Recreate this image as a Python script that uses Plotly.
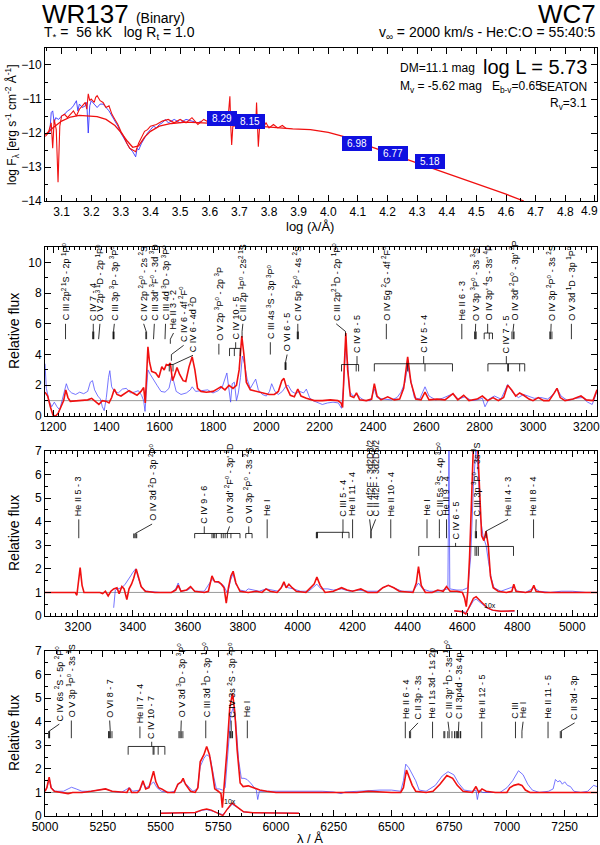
import plotly.graph_objects as go

FONT = "Liberation Sans, Arial, Helvetica, sans-serif"
NARROW = "Liberation Sans Narrow, Liberation Sans, Arial, sans-serif"
RED = "#f01010"
BLUE = "#3535ff"

# ---- panel 1: spectral energy distribution
sed_obs_logl = [3.06, 3.065, 3.07, 3.075, 3.08, 3.09, 3.10, 3.11, 3.12, 3.13, 3.14, 3.15, 3.155, 3.16, 3.17,
                3.18, 3.185, 3.19, 3.195, 3.20, 3.21, 3.22, 3.23, 3.24, 3.25, 3.26, 3.27, 3.28, 3.29, 3.30,
                3.31, 3.32, 3.33, 3.34, 3.35, 3.355, 3.36, 3.37, 3.38, 3.39, 3.40, 3.41, 3.42, 3.43, 3.44,
                3.45, 3.46, 3.47, 3.48, 3.50, 3.52, 3.54, 3.56, 3.57]
sed_obs_flux = [-12.0, -11.4, -11.35, -11.7, -11.55, -11.6, -11.5, -11.45, -11.35, -11.3, -11.2, -11.05, -11.35,
                -11.15, -11.25, -11.2, -11.1, -12.0, -11.2, -11.05, -11.15, -11.25, -11.15, -11.15, -11.25,
                -11.35, -11.5, -11.65, -11.8, -12.0, -12.15, -12.3, -12.45, -12.55, -12.7, -12.45, -12.5,
                -12.3, -12.15, -12.0, -11.9, -11.8, -11.85, -11.75, -11.7, -11.6, -11.7, -11.65, -11.6,
                -11.7, -11.6, -11.65, -11.7, -11.65]
sed_mod_logl = [3.045, 3.055, 3.065, 3.07, 3.075, 3.082, 3.088, 3.094, 3.10, 3.11, 3.12, 3.13, 3.14, 3.15, 3.16,
                3.17, 3.18, 3.185, 3.19, 3.195, 3.20, 3.21, 3.215, 3.22, 3.23, 3.24, 3.25, 3.26, 3.27, 3.28,
                3.29, 3.30, 3.31, 3.32, 3.33, 3.34, 3.35, 3.36, 3.37, 3.38, 3.39, 3.40, 3.42, 3.44, 3.46,
                3.48, 3.50, 3.52, 3.54, 3.56, 3.58, 3.60, 3.62, 3.64, 3.66, 3.665, 3.668, 3.671, 3.674, 3.678,
                3.70, 3.73, 3.755, 3.758, 3.761, 3.764, 3.768, 3.78, 3.79, 3.80, 3.815, 3.83, 3.845, 3.86]
sed_mod_flux = [-12.1, -12.0, -11.7, -12.45, -11.6, -11.9, -13.45, -11.8, -11.5, -11.45, -11.55, -11.45, -11.35,
                -11.5, -11.3, -11.2, -11.1, -11.3, -10.85, -11.05, -11.0, -11.1, -10.95, -10.9, -11.05, -11.1,
                -11.25, -11.2, -11.45, -11.6, -11.75, -11.95, -12.1, -12.3, -12.45, -12.5, -12.55, -12.3,
                -12.1, -11.95, -11.9, -11.8, -11.75, -11.65, -11.6, -11.7, -11.6, -11.7, -11.55, -11.75,
                -11.6, -11.7, -11.72, -11.72, -11.75, -11.35, -10.92, -11.8, -12.35, -11.8, -11.78, -11.78,
                -11.8, -11.1, -11.85, -12.4, -11.85, -11.85, -11.7, -11.85, -11.75, -11.85, -11.78, -11.88]
sed_cont_logl = [3.045, 3.07, 3.1, 3.13, 3.16, 3.19, 3.22, 3.25, 3.28, 3.30, 3.32, 3.34, 3.36, 3.38, 3.40, 3.43,
                 3.47, 3.52, 3.58, 3.65, 3.72, 3.80, 3.88, 3.94, 3.97, 4.00, 4.05, 4.1, 4.2, 4.3, 4.4, 4.5,
                 4.6, 4.66]
sed_cont_flux = [-12.05, -11.85, -11.65, -11.53, -11.48, -11.49, -11.52, -11.6, -11.78, -11.98, -12.22, -12.42,
                 -12.38, -12.12, -11.95, -11.8, -11.72, -11.68, -11.7, -11.73, -11.77, -11.83, -11.88, -11.9,
                 -11.93, -11.98, -12.1, -12.27, -12.58, -12.88, -13.19, -13.5, -13.8, -14.0]
phot_logl = [3.643, 3.735, 4.097, 4.217, 4.342]
phot_flux = [-11.56, -11.65, -12.31, -12.60, -12.85]
phot_mag = ["8.29", "8.15", "6.98", "6.77", "5.18"]
sed_ticks = [3.1, 3.2, 3.3, 3.4, 3.5, 3.6, 3.7, 3.8, 3.9, 4.0, 4.1, 4.2, 4.3, 4.4, 4.5, 4.6, 4.7, 4.8, 4.9]

# ---- panel 2: UV
uv_mod_wave = [1170, 1180, 1190, 1200, 1210, 1220, 1230, 1240, 1248, 1256, 1265, 1290, 1310, 1330, 1345, 1360,
               1372, 1385, 1400, 1410, 1420, 1430, 1440, 1455, 1470, 1485, 1500, 1515, 1530, 1540, 1546, 1551,
               1556, 1562, 1570, 1585, 1597, 1608, 1617, 1625, 1633, 1640, 1648, 1655, 1665, 1675, 1688, 1698,
               1710, 1722, 1732, 1742, 1755, 1775, 1800, 1815, 1830, 1845, 1860, 1875, 1888, 1898, 1908, 1916,
               1925, 1940, 1960, 1985, 2010, 2030, 2045, 2058, 2066, 2075, 2090, 2105, 2118, 2130, 2150, 2180,
               2210, 2240, 2268, 2280, 2286, 2293, 2298, 2305, 2315, 2328, 2338, 2350, 2375, 2395, 2405, 2415,
               2430, 2455, 2480, 2500, 2515, 2530, 2542, 2560, 2580, 2595, 2610, 2640, 2670, 2700, 2718, 2740,
               2760, 2790, 2810, 2830, 2850, 2870, 2890, 2905, 2920, 2935, 2950, 2965, 2985, 3000, 3020, 3040,
               3060, 3080, 3090, 3102, 3120, 3150, 3180, 3200, 3225, 3240]
uv_mod_flux = [1.55, 1.3, 0.6, 0.05, 0.0, 0.2, 0.6, 1.0, 1.7, 1.2, 0.95, 1.0, 1.05, 1.05, 1.15, 0.95, 0.75, 1.0,
               0.95, 0.85, 1.2, 1.75, 1.4, 1.3, 1.5, 1.65, 1.5, 1.35, 1.6, 1.85, 0.85, 2.8, 4.5, 3.5, 2.9, 2.8,
               2.5, 3.2, 3.0, 3.35, 3.3, 3.45, 2.3, 2.6, 3.15, 2.7, 2.3, 2.25, 3.2, 3.85, 3.0, 1.8, 1.6, 1.55,
               1.6, 1.75, 1.9, 1.7, 2.0, 1.8, 2.0, 3.0, 5.2, 4.0, 2.2, 1.7, 1.6, 1.5, 1.4, 1.4, 1.6, 2.3, 2.45,
               1.9, 1.35, 1.25, 1.75, 1.3, 1.15, 1.0, 1.0, 1.05, 1.0, 0.85, 0.55, 3.5, 5.4, 3.0, 1.3, 1.2, 1.5,
               1.05, 1.0, 1.1, 2.1, 1.3, 1.05, 1.25, 1.05, 1.1, 1.8, 3.85, 2.2, 1.1, 1.05, 1.55, 1.05, 1.1,
               1.05, 1.45, 1.05, 1.35, 1.0, 1.1, 1.3, 1.0, 1.2, 1.0, 1.2, 2.0, 1.7, 1.3, 1.5, 1.35, 1.1, 1.0,
               1.2, 1.0, 1.0, 1.5, 1.8, 1.2, 1.0, 1.1, 1.3, 1.05, 1.0, 1.7]
uv_obs_wave = [1170, 1175, 1185, 1195, 1205, 1215, 1225, 1235, 1243, 1250, 1258, 1270, 1285, 1300, 1315, 1330,
               1340, 1348, 1356, 1368, 1378, 1385, 1392, 1400, 1408, 1413, 1420, 1430, 1445, 1460, 1475, 1490,
               1505, 1520, 1532, 1540, 1545, 1550, 1556, 1565, 1575, 1590, 1605, 1620, 1635, 1645, 1652, 1662,
               1680, 1700, 1715, 1722, 1735, 1760, 1780, 1800, 1820, 1835, 1845, 1852, 1860, 1866, 1872, 1880,
               1888, 1895, 1903, 1910, 1918, 1928, 1940, 1950, 1960, 1970, 1985, 2000, 2012, 2020, 2032, 2045,
               2060, 2072, 2082, 2095, 2110, 2125, 2140, 2150, 2162, 2175, 2190, 2210, 2230, 2250, 2270, 2282,
               2290, 2297, 2305, 2312, 2325, 2340, 2355, 2370, 2390, 2405, 2415, 2440, 2470, 2490, 2505, 2520,
               2530, 2540, 2555, 2575, 2595, 2610, 2635, 2660, 2700, 2720, 2745, 2770, 2790, 2810, 2820, 2835,
               2855, 2880, 2905, 2925, 2945, 2965, 2985, 3005, 3030, 3055, 3075, 3090, 3105, 3130, 3160, 3185,
               3205, 3222, 3240]
uv_obs_flux = [3.4, 1.8, 1.0, 0.6, 0.9, 0.6, 0.4, 1.1, 1.6, 2.1, 1.7, 1.5, 1.4, 1.55, 1.45, 1.6, 2.2, 2.3, 1.7,
               1.3, 1.1, 0.6, 0.35, 1.2, 2.5, 2.95, 1.9, 1.6, 1.5, 1.75, 1.8, 1.5, 1.55, 1.65, 1.35, 1.0, 0.3,
               1.5, 3.0, 2.7, 2.4, 2.0, 1.6, 1.55, 1.8, 2.6, 2.3, 1.6, 1.4, 1.5, 1.7, 1.9, 1.6, 1.65, 1.7, 1.5,
               1.65, 1.9, 2.4, 2.8, 1.7, 0.9, 2.1, 2.2, 1.0, 1.5, 2.5, 3.9, 3.4, 2.4, 1.8, 2.1, 2.4, 1.7, 1.4,
               1.3, 1.6, 2.1, 1.6, 1.4, 1.6, 1.9, 2.0, 1.6, 1.45, 1.6, 1.5, 1.75, 1.2, 1.0, 0.9, 0.75, 0.85,
               0.9, 0.85, 0.5, 2.0, 4.5, 3.5, 1.6, 1.3, 1.4, 1.15, 1.0, 1.0, 1.75, 1.2, 1.1, 1.05, 1.2, 1.55,
               2.2, 3.3, 2.4, 1.2, 1.1, 1.9, 1.3, 1.05, 1.15, 1.45, 1.1, 1.25, 1.0, 1.05, 1.15, 0.6, 1.1, 1.3,
               1.1, 2.05, 1.5, 1.2, 1.4, 1.3, 1.15, 1.2, 1.1, 1.4, 1.8, 1.3, 1.0, 1.15, 1.2, 0.9, 0.75, 1.6]

# ---- panel 3: blue optical
b_mod_wave = [3080, 3150, 3190, 3196, 3202, 3208, 3215, 3222, 3280, 3290, 3300, 3310, 3320, 3330, 3342, 3350,
              3360, 3368, 3378, 3386, 3395, 3403, 3412, 3420, 3430, 3445, 3480, 3540, 3556, 3565, 3575, 3595,
              3610, 3625, 3660, 3675, 3688, 3698, 3712, 3722, 3732, 3740, 3748, 3757, 3765, 3775, 3790, 3820,
              3850, 3870, 3885, 3900, 3925, 3940, 3950, 3958, 3968, 3980, 3995, 4030, 4060, 4070, 4082, 4100,
              4130, 4160, 4180, 4200, 4230, 4255, 4290, 4310, 4330, 4350, 4370, 4420, 4432, 4440, 4450, 4465,
              4490, 4510, 4530, 4542, 4555, 4580, 4600, 4608, 4614, 4620, 4626, 4634, 4640, 4655, 4662, 4670,
              4678, 4686, 4694, 4702, 4712, 4730, 4760, 4780, 4787, 4795, 4830, 4850, 4860, 4868, 4900, 4950,
              5000, 5090]
b_mod_flux = [1.0, 1.0, 1.0, 0.88, 1.4, 2.05, 1.3, 1.0, 1.0, 0.95, 1.05, 0.85, 1.05, 1.15, 1.2, 0.95, 1.25,
              1.15, 0.7, 1.15, 1.35, 1.6, 2.0, 1.7, 1.25, 1.05, 1.0, 1.0, 1.1, 1.3, 1.05, 1.1, 1.25, 1.05, 1.0,
              1.05, 1.7, 1.45, 1.45, 1.35, 1.2, 0.55, 1.2, 1.7, 1.9, 1.4, 1.05, 1.0, 1.05, 1.0, 1.15, 1.05, 1.0,
              1.2, 1.45, 1.2, 1.35, 1.2, 1.05, 1.0, 1.35, 1.65, 1.3, 1.0, 1.05, 1.2, 1.1, 1.05, 1.15, 1.0, 1.0,
              1.2, 1.3, 1.2, 1.05, 1.0, 1.4, 2.1, 1.3, 1.0, 1.0, 1.1, 1.05, 1.25, 1.05, 1.05, 1.0, 0.75, 0.4,
              1.1, 2.5, 5.2, 7.3, 7.3, 5.2, 3.4, 3.2, 3.6, 3.0, 1.7, 1.2, 1.05, 1.0, 1.05, 1.35, 1.05, 1.0,
              1.05, 1.3, 1.05, 1.0, 1.0, 1.0, 1.0]
b_obs_wave = [3330, 3336, 3345, 3360, 3372, 3382, 3392, 3400, 3410, 3420, 3432, 3450, 3500, 3540, 3556, 3565,
              3575, 3600, 3612, 3625, 3660, 3688, 3700, 3715, 3730, 3745, 3755, 3765, 3775, 3790, 3810, 3820,
              3840, 3860, 3885, 3905, 3930, 3950, 3965, 3985, 4010, 4040, 4070, 4085, 4110, 4130, 4160, 4190,
              4220, 4255, 4290, 4310, 4330, 4350, 4380, 4420, 4440, 4455, 4480, 4510, 4530, 4547, 4551, 4554,
              4580, 4600, 4620, 4630, 4640, 4650, 4658, 4665, 4675, 4686, 4695, 4705, 4715, 4740, 4787, 4800,
              4830, 4860, 4880, 4920, 4960, 5000, 5050, 5090]
b_obs_flux = [0.35, 1.1, 1.15, 1.2, 1.35, 1.5, 1.7, 1.85, 2.0, 1.6, 1.2, 1.05, 1.0, 1.0, 1.15, 1.4, 1.05, 1.1,
              1.2, 1.05, 1.05, 1.55, 1.45, 1.4, 1.3, 0.95, 1.5, 1.8, 1.35, 1.1, 1.05, 1.15, 1.1, 1.05, 1.15,
              1.1, 1.05, 1.35, 1.2, 1.15, 1.05, 1.05, 1.35, 1.15, 1.15, 1.1, 1.15, 1.05, 1.1, 1.05, 1.05, 1.2,
              1.3, 1.2, 1.05, 1.05, 1.4, 1.15, 1.05, 1.05, 1.1, 1.15, 7.3, 1.15, 1.1, 1.1, 1.2, 2.5, 5.5, 7.3,
              6.0, 4.2, 3.4, 3.0, 2.3, 1.6, 1.2, 1.05, 1.25, 1.05, 1.0, 1.2, 1.05, 1.0, 1.05, 1.05, 1.0, 1.0]
b_ins_wave = [4570, 4590, 4600, 4612, 4625, 4640, 4650, 4660, 4672, 4690, 4710, 4740, 4790]
b_ins_mod = [0.22, 0.2, 0.18, 0.08, 0.4, 0.75, 0.82, 0.7, 0.55, 0.35, 0.25, 0.2, 0.22]
b_ins_obs = [0.2, 0.2, 0.2, 0.15, 0.35, 0.65, 0.72, 0.62, 0.5, 0.33, 0.24, 0.2, 0.2]

# ---- panel 4: red optical
r_mod_wave = [5000, 5008, 5018, 5026, 5040, 5080, 5100, 5120, 5160, 5200, 5240, 5262, 5290, 5330, 5355, 5365,
              5375, 5400, 5410, 5424, 5436, 5450, 5462, 5470, 5480, 5492, 5505, 5530, 5560, 5575, 5590, 5598,
              5608, 5630, 5650, 5662, 5672, 5688, 5700, 5712, 5724, 5735, 5750, 5762, 5768, 5776, 5788, 5800,
              5812, 5822, 5832, 5845, 5858, 5880, 5900, 5930, 5960, 6000, 6100, 6200, 6280, 6350, 6400, 6450,
              6500, 6540, 6552, 6565, 6578, 6590, 6605, 6650, 6680, 6710, 6740, 6765, 6785, 6810, 6850, 6866,
              6878, 6892, 6910, 6950, 7000, 7012, 7030, 7050, 7065, 7080, 7100, 7200, 7300, 7390]
r_mod_flux = [1.05, 1.2, 1.65, 1.2, 1.05, 1.0, 0.95, 1.0, 1.0, 1.05, 1.1, 1.15, 1.05, 1.0, 1.0, 1.2, 1.0, 1.0,
              1.1, 1.5, 1.15, 1.2, 1.6, 1.9, 1.45, 1.2, 1.15, 1.0, 1.0, 1.35, 1.45, 1.6, 1.35, 1.05, 1.0, 1.2,
              2.3, 2.6, 2.95, 2.6, 1.9, 1.15, 1.05, 0.95, 0.35, 1.2, 2.8, 4.6, 5.2, 4.4, 2.8, 1.4, 1.25, 1.28,
              1.2, 1.1, 1.05, 1.0, 1.0, 1.0, 0.97, 1.0, 1.05, 1.02, 1.0, 1.0, 1.2, 1.95, 1.6, 1.3, 1.05, 1.0,
              1.05, 1.35, 1.72, 1.6, 1.3, 1.05, 1.0, 1.25, 1.0, 1.15, 1.05, 1.0, 1.0, 1.2, 1.3, 1.35, 1.3, 1.1,
              1.0, 1.0, 1.0, 1.0]
r_obs_wave = [5000, 5010, 5018, 5028, 5045, 5080, 5100, 5115, 5135, 5160, 5200, 5240, 5262, 5290, 5330, 5365,
              5380, 5410, 5424, 5438, 5455, 5470, 5485, 5505, 5540, 5560, 5575, 5595, 5612, 5640, 5660, 5672,
              5688, 5700, 5715, 5730, 5742, 5755, 5768, 5780, 5792, 5805, 5815, 5826, 5838, 5850, 5862, 5875,
              5890, 5905, 5915, 5921, 5928, 5950, 6000, 6050, 6100, 6150, 6200, 6250, 6282, 6300, 6350, 6400,
              6420, 6450, 6500, 6540, 6552, 6562, 6575, 6590, 6605, 6620, 6650, 6690, 6720, 6745, 6770, 6790,
              6815, 6850, 6866, 6872, 6880, 6895, 6930, 6970, 7000, 7025, 7050, 7070, 7090, 7110, 7140, 7180,
              7200, 7210, 7220, 7230, 7240, 7250, 7262, 7275, 7290, 7320, 7350, 7375, 7390]
r_obs_flux = [1.05, 1.25, 1.6, 1.2, 1.05, 1.05, 1.15, 1.22, 1.15, 1.05, 1.05, 1.1, 1.15, 1.05, 1.0, 1.2, 1.05,
              1.1, 1.4, 1.2, 1.3, 1.45, 1.2, 1.05, 1.0, 1.05, 1.3, 1.5, 1.35, 1.05, 1.15, 2.1, 2.45, 2.6, 2.5,
              1.7, 1.15, 1.15, 1.1, 1.2, 2.9, 4.3, 4.6, 4.0, 2.4, 1.6, 1.6, 1.55, 1.4, 1.2, 1.1, 0.7, 1.05,
              1.05, 1.05, 1.05, 1.05, 1.08, 1.05, 1.02, 0.95, 1.02, 1.05, 1.08, 1.1, 1.1, 1.1, 1.05, 1.5, 2.2,
              2.05, 1.8, 1.5, 1.1, 1.05, 1.3, 1.7, 1.88, 1.75, 1.4, 1.1, 1.05, 1.1, 0.7, 1.1, 1.0, 1.0, 1.0,
              1.2, 1.5, 1.92, 1.75, 1.35, 1.1, 1.0, 1.05, 1.15, 1.55, 1.45, 1.5, 1.35, 1.45, 1.3, 1.25, 1.05,
              1.0, 1.05, 1.3, 1.25]
r_ins_wave = [5500, 5550, 5600, 5650, 5680, 5700, 5720, 5750, 5770, 5790, 5810, 5830, 5860, 5900, 6000, 6100]
r_ins_mod = [0.12, 0.13, 0.12, 0.15, 0.26, 0.3, 0.25, 0.12, 0.02, 0.3, 0.55, 0.4, 0.18, 0.14, 0.12, 0.12]
r_ins_obs = [0.12, 0.12, 0.12, 0.14, 0.24, 0.27, 0.22, 0.12, 0.06, 0.28, 0.5, 0.38, 0.17, 0.14, 0.12, 0.12]

# line identifications: label, text wavelength, text base, line wavelengths, tick bottom, tick top, bar
uv_ids = [
    ("C III 2p<sup>2 1</sup>S - 2p <sup>1</sup>P<sup>o</sup>", 1247, 6.0, [1247], 5.0, 5.0, False),
    ("C IV 7 - 4", 1351, 6.0, [1349, 1351, 1353], 5.0, 5.5, False),
    ("O V 2p<sup>3 1</sup>D - 2p <sup>1</sup>P<sup>o</sup>", 1376, 6.0, [1371], 5.0, 5.0, False),
    ("C III 3p <sup>3</sup>P - 3p <sup>3</sup>P<sup>o</sup>", 1430, 6.0, [1425, 1427, 1429], 5.0, 5.5, False),
    ("C IV 2p <sup>2</sup>P<sup>o</sup> - 2s <sup>2</sup>S", 1540, 6.0, [1548, 1551], 5.0, 5.5, False),
    ("C III 3d' <sup>3</sup>F<sup>o</sup> - 3d <sup>3</sup>D", 1580, 6.0, [1577], 5.0, 5.0, False),
    ("C III 4d <sup>3</sup>D - 3p <sup>3</sup>P<sup>o</sup>", 1622, 6.0, [1620], 5.0, 5.0, False),
    ("He II 3 - 2", 1652, 5.4, [1640], 4.7, 5.0, False),
    ("C IV 6 - 4f <sup>2</sup>F<sup>o</sup>", 1690, 4.6, [1644], 3.6, 4.0, False),
    ("C IV 6 - 4d <sup>2</sup>D", 1725, 3.95, [1636, 1650], 2.9, 3.35, True),
    ("O V 2p <sup>3</sup>P<sup>o</sup> - 2p <sup>3</sup>P", 1822, 4.7, [1822], 4.0, 4.0, False),
    ("C IV 10 - 5", 1885, 4.8, [1862, 1880, 1902], 3.9, 4.4, True),
    ("C III 2p <sup>1</sup>P<sup>o</sup> - 2s<sup>2 1</sup>S", 1912, 6.0, [1909], 5.1, 5.5, False),
    ("C III 4s <sup>3</sup>S - 3p <sup>3</sup>P<sup>o</sup>", 2015, 4.8, [2015], 4.0, 4.0, False),
    ("O VI 6 - 5", 2078, 4.0, [2070, 2072, 2074], 3.0, 3.5, False),
    ("C IV 5p <sup>2</sup>P<sup>o</sup> - 4s <sup>2</sup>S", 2118, 6.0, [2116, 2118, 2120], 5.0, 5.5, False),
    ("C III 2p<sup>2 1</sup>D - 2p <sup>1</sup>P<sup>o</sup>", 2262, 6.0, [2297], 5.2, 5.5, False),
    ("C IV 8 - 5", 2340, 3.9, [2282, 2337, 2346], 2.9, 3.35, True),
    ("O IV 5g <sup>2</sup>G - 4f <sup>2</sup>F<sup>o</sup>", 2450, 6.0, [2450], 5.0, 5.0, False),
    ("C IV 5 - 4", 2590, 3.9, [2405, 2530, 2595, 2698], 2.9, 3.4, True),
    ("He II 6 - 3", 2733, 6.0, [2733], 5.0, 5.0, False),
    ("O V 3p <sup>3</sup>P<sup>o</sup> - 3s <sup>3</sup>S", 2785, 6.0, [2781, 2784, 2787], 5.0, 5.5, False),
    ("O IV 3p' <sup>4</sup>S - 3s' <sup>4</sup>P", 2830, 6.0, [2817, 2836, 2848], 5.0, 5.4, True),
    ("C IV 7 - 5", 2900, 3.9, [2831, 2905, 2908, 2950, 2969], 2.9, 3.4, True),
    ("O IV 3d' <sup>2</sup>D<sup>o</sup> - 3p' <sup>2</sup>P", 2928, 6.0, [2921, 2926, 2929], 5.0, 5.5, False),
    ("O IV 3p <sup>2</sup>P<sup>o</sup> - 3s <sup>2</sup>S", 3068, 6.0, [3063, 3066, 3071], 5.0, 5.5, False),
    ("O V 3d <sup>1</sup>D - 3p <sup>1</sup>P<sup>o</sup>", 3144, 6.0, [3144], 5.0, 5.0, False),
]
blue_ids = [
    ("He II 5 - 3", 3203, 4.1, [3203], 3.3, 3.3, False),
    ("O IV 3d <sup>2</sup>D - 3p <sup>2</sup>P<sup>o</sup>", 3470, 3.9, [3403, 3407, 3411, 3414], 3.3, 3.5, False),
    ("C IV 9 - 6", 3660, 3.8, [3625, 3688, 3693, 3698, 3704, 3722, 3790], 3.3, 3.5, True),
    ("O IV 3d' <sup>2</sup>F<sup>o</sup> - 3p' <sup>2</sup>D", 3752, 3.8, [3729, 3736, 3744, 3757], 3.3, 3.5, False),
    ("O VI 3p <sup>2</sup>P<sup>o</sup> - 3s <sup>2</sup>S", 3822, 3.8, [3811, 3834], 3.3, 3.5, True),
    ("He I", 3889, 4.1, [3889], 3.3, 3.3, False),
    ("C III 5 - 4", 4165, 4.1, [4068, 4070, 4072, 4163, 4187], 3.3, 3.55, True),
    ("He II 11 - 4", 4200, 4.1, [4200], 3.3, 3.3, False),
    ("C II 4f2F - 3d2D3/2", 4262, 4.1, [4267], 3.3, 3.6, False),
    ("C II 4f2F - 3d2D5/2", 4284, 4.1, [4267], 3.3, 3.6, False),
    ("He II 10 - 4", 4339, 4.1, [4339], 3.3, 3.3, False),
    ("He I", 4471, 4.1, [4471], 3.3, 3.3, False),
    ("C III 5s <sup>3</sup>S - 4p <sup>3</sup>P<sup>o</sup>", 4516, 4.1, [4516], 3.3, 3.6, False),
    ("He II 9 - 4", 4542, 4.1, [4542], 3.3, 3.3, False),
    ("C IV 6 - 5", 4575, 3.1, [4441, 4646, 4652, 4658, 4786], 2.55, 2.95, True),
    ("C III 3p <sup>3</sup>P<sup>o</sup> - 3s <sup>3</sup>S", 4650, 4.1, [4647, 4650, 4651], 3.3, 3.6, False),
    ("He II 4 - 3", 4766, 4.1, [4686], 3.3, 3.6, False),
    ("He II 8 - 4", 4859, 4.1, [4859], 3.3, 3.3, False),
]
red_ids = [
    ("C IV 6s <sup>2</sup>S - 5p <sup>2</sup>P<sup>o</sup>", 5062, 3.9, [5016, 5018, 5020], 3.3, 3.6, False),
    ("O V 3p <sup>1</sup>P<sup>o</sup> - 3s <sup>1</sup>S", 5114, 4.05, [5114], 3.3, 3.3, False),
    ("O VI 8 - 7", 5280, 4.05, [5275, 5279, 5283, 5290], 3.3, 3.6, False),
    ("He II 7 - 4", 5411, 3.8, [5411], 3.3, 3.3, False),
    ("C IV 10 - 7", 5462, 3.15, [5360, 5468, 5472, 5490, 5519], 2.6, 2.95, True),
    ("O V 3d <sup>3</sup>D - 3p <sup>3</sup>P<sup>o</sup>", 5590, 4.05, [5580, 5585, 5590, 5597], 3.3, 3.6, False),
    ("C III 3d <sup>1</sup>D - 3p <sup>1</sup>P<sup>o</sup>", 5696, 4.05, [5696], 3.3, 3.3, False),
    ("C IV 3s <sup>2</sup>S - 3p <sup>2</sup>P<sup>o</sup>", 5806, 4.05, [5801, 5804, 5809, 5812], 3.3, 3.6, False),
    ("He I", 5876, 4.05, [5876], 3.3, 3.3, False),
    ("He II 6 - 4", 6560, 4.0, [6560], 3.3, 3.3, False),
    ("C II 3p - 3s", 6615, 3.95, [6578, 6583], 3.3, 3.6, False),
    ("He I 1s 3d - 1s 2p", 6678, 4.0, [6678], 3.3, 3.3, False),
    ("C III 3p' <sup>1</sup>D - 3s' <sup>1</sup>P<sup>o</sup>", 6745, 4.0,
     [6727, 6731, 6744, 6750, 6762, 6773], 3.3, 3.6, False),
    ("C II 3p4d - 3s 4p", 6792, 4.0, [6780, 6784, 6787, 6791, 6798, 6800], 3.3, 3.6, False),
    ("He II 12 - 5", 6891, 4.0, [6891], 3.3, 3.3, False),
    ("C III", 7037, 4.0, [7037], 3.3, 3.3, False),
    ("He I", 7070, 4.0, [7065], 3.3, 3.6, False),
    ("He II 11 - 5", 7178, 4.0, [7178], 3.3, 3.3, False),
    ("C II 3d - 3p", 7293, 3.95, [7231, 7236], 3.3, 3.6, False),
]

XDOM = [0.075, 0.995]
YDOMS = [[0.7621, 0.9432], [0.5077, 0.7077], [0.2710, 0.4663], [0.0343, 0.2296]]
XRANGES = [[3.044, 4.907], [1170, 3240], [3080, 5090], [5000, 7390]]
YRANGES = [[-14, -9.5], [0, 11], [0, 7], [0, 7]]
XDT = [(0.1, 0.05), (200, 20), (200, 20), (250, 50)]
YDT = [(1, 0.5), (2, 1), (1, 0.5), (1, 0.5)]

fig = go.Figure()


def line(x, y, color, width, ax, opacity=1.0):
    fig.add_trace(go.Scatter(x=x, y=y, mode="lines", line=dict(color=color, width=width),
                             opacity=opacity, xaxis="x" + ax, yaxis="y" + ax,
                             hoverinfo="skip", showlegend=False))


# panel 1
line(sed_obs_logl, sed_obs_flux, BLUE, 0.9, "")
line(sed_mod_logl, sed_mod_flux, RED, 1.1, "")
line(sed_cont_logl, sed_cont_flux, RED, 1.3, "")

# spectra panels
line(uv_obs_wave, uv_obs_flux, BLUE, 0.8, "2", 0.85)
line(uv_mod_wave, uv_mod_flux, RED, 1.6, "2")
line(b_obs_wave, b_obs_flux, BLUE, 0.8, "3", 0.85)
line(b_mod_wave, b_mod_flux, RED, 1.6, "3")
line(b_ins_wave, b_ins_obs, BLUE, 0.8, "3", 0.85)
line(b_ins_wave, b_ins_mod, RED, 1.4, "3")
line(r_obs_wave, r_obs_flux, BLUE, 0.8, "4", 0.85)
line(r_mod_wave, r_mod_flux, RED, 1.6, "4")
line(r_ins_wave, r_ins_obs, BLUE, 0.8, "4", 0.85)
line(r_ins_wave, r_ins_mod, RED, 1.4, "4")

annotations = []


def add_ids(ids, ax):
    xs, ys = [], []
    for name, tx, ty, lines, y0, y1, bar in ids:
        for lam in lines:
            xs += [lam, lam, None]
            ys += [y0, y1, None]
        lo, hi = min(lines), max(lines)
        if bar:
            xs += [lo, hi, None]
            ys += [y1, y1, None]
            cx = min(max(tx, lo), hi)
        else:
            cx = (lo + hi) / 2
        xs += [cx, tx, None]
        ys += [y1, ty, None]
        annotations.append(dict(text=name, x=tx, y=ty, xref="x" + ax, yref="y" + ax,
                                textangle=-90, xanchor="center", yanchor="bottom", yshift=1,
                                showarrow=False, font=dict(family=NARROW, size=9, color="black")))
    fig.add_trace(go.Scatter(x=xs, y=ys, mode="lines", line=dict(color="black", width=0.8),
                             xaxis="x" + ax, yaxis="y" + ax, hoverinfo="skip", showlegend=False))


add_ids(uv_ids, "2")
add_ids(blue_ids, "3")
add_ids(red_ids, "4")

# photometry boxes
for lx, fy, mag in zip(phot_logl, phot_flux, phot_mag):
    annotations.append(dict(text=mag, x=lx, y=fy, xref="x", yref="y", showarrow=False,
                            bgcolor="#1010e0", bordercolor="#1010e0", borderpad=1, width=26,
                            font=dict(family=FONT, size=10, color="white")))

# 10x markers on the difference curves
annotations.append(dict(text="10x", x=4672, y=0.45, xref="x3", yref="y3", showarrow=False,
                        xanchor="left", font=dict(family=NARROW, size=7, color="black")))
annotations.append(dict(text="10x", x=5800, y=0.62, xref="x4", yref="y4", showarrow=False,
                        xanchor="center", font=dict(family=NARROW, size=7, color="black")))


def paper_text(text, px, py, size, xanchor="left", family=FONT, angle=0):
    annotations.append(dict(text=text, x=px / 600, y=1 - py / 845, xref="paper", yref="paper",
                            xanchor=xanchor, yanchor="middle", showarrow=False, textangle=angle,
                            font=dict(family=family, size=size, color="black")))


paper_text("WR137 <span style='font-size:14px'>(Binary)</span>", 40, 14, 26)
paper_text("T<sub>*</sub> =  56 kK   log R<sub>t</sub> = 1.0", 42, 33, 14)
paper_text("WC7", 598, 14, 26, "right")
paper_text("v<sub>\u221e</sub> = 2000 km/s - He:C:O = 55:40:5", 598, 33, 14, "right")
paper_text("DM=11.1 mag", 398, 68, 12, "left", NARROW)
paper_text("log L = 5.73", 589, 67, 20, "right")
paper_text("M<sub>v</sub> = -5.62 mag   E<sub>b-v</sub>=0.65", 398, 87, 12, "left", NARROW)
paper_text("SEATON", 589, 87, 12, "right", NARROW)
paper_text("R<sub>v</sub>=3.1", 589, 104, 12, "right", NARROW)
paper_text("log F<sub>\u03bb</sub> [erg s<sup>-1</sup> cm<sup>-2</sup> \u00c5<sup>-1</sup>]", 12, 125, 12,
           "center", FONT, -90)
paper_text("log (\u03bb/\u00c5)", 310, 226, 13, "center")
for yc in [331, 533, 733]:
    paper_text("Relative flux", 14, yc, 14, "center", FONT, -90)
paper_text("\u03bb / \u00c5", 310, 838, 13, "center")
# last log-lambda label sits at the right edge: draw it pulled inside the page
annotations.append(dict(text="%.1f" % sed_ticks[-1], x=1, y=1 - 201 / 845, xref="paper", yref="paper",
                        xanchor="right", yanchor="top", yshift=-1, showarrow=False,
                        font=dict(family=FONT, size=12, color="black")))

shapes = []
for ax in ["2", "3", "4"]:
    shapes.append(dict(type="line", xref="x" + ax + " domain", yref="y" + ax, x0=0, x1=1, y0=1, y1=1,
                       line=dict(color="#9a9a9a", width=1), layer="below"))

layout = dict(width=600, height=845, margin=dict(l=0, r=0, t=0, b=0), autosize=False,
              paper_bgcolor="white", plot_bgcolor="white", annotations=annotations, shapes=shapes,
              showlegend=False)
for i in range(4):
    sfx = "" if i == 0 else str(i + 1)
    common = dict(showline=True, linecolor="black", linewidth=1, mirror="allticks", ticks="inside",
                  ticklen=6, tickcolor="black", showgrid=False, zeroline=False, automargin=False,
                  ticklabeloverflow="allow",
                  tickfont=dict(family=FONT, size=12, color="black"))
    layout["xaxis" + sfx] = dict(common, domain=XDOM, range=XRANGES[i], anchor="y" + sfx,
                                 dtick=XDT[i][0], tick0=0,
                                 minor=dict(ticks="inside", ticklen=3, dtick=XDT[i][1], tickcolor="black",
                                            showgrid=False))
    layout["yaxis" + sfx] = dict(common, domain=YDOMS[i], range=YRANGES[i], anchor="x" + sfx,
                                 dtick=YDT[i][0], tick0=0,
                                 minor=dict(ticks="inside", ticklen=3, dtick=YDT[i][1], tickcolor="black",
                                            showgrid=False))
layout["xaxis"].update(tickmode="array", tickvals=sed_ticks,
                       ticktext=["%.1f" % t for t in sed_ticks[:-1]] + [""])
layout["xaxis"].pop("dtick")
layout["xaxis"].pop("tick0")
fig.update_layout(**layout)

# no page margin, so the 600x845 figure fills the window exactly
fig.write_html("out.html", config={"displayModeBar": False},
               post_script="document.body.style.margin='0';"
                           "document.body.style.overflow='hidden';")
